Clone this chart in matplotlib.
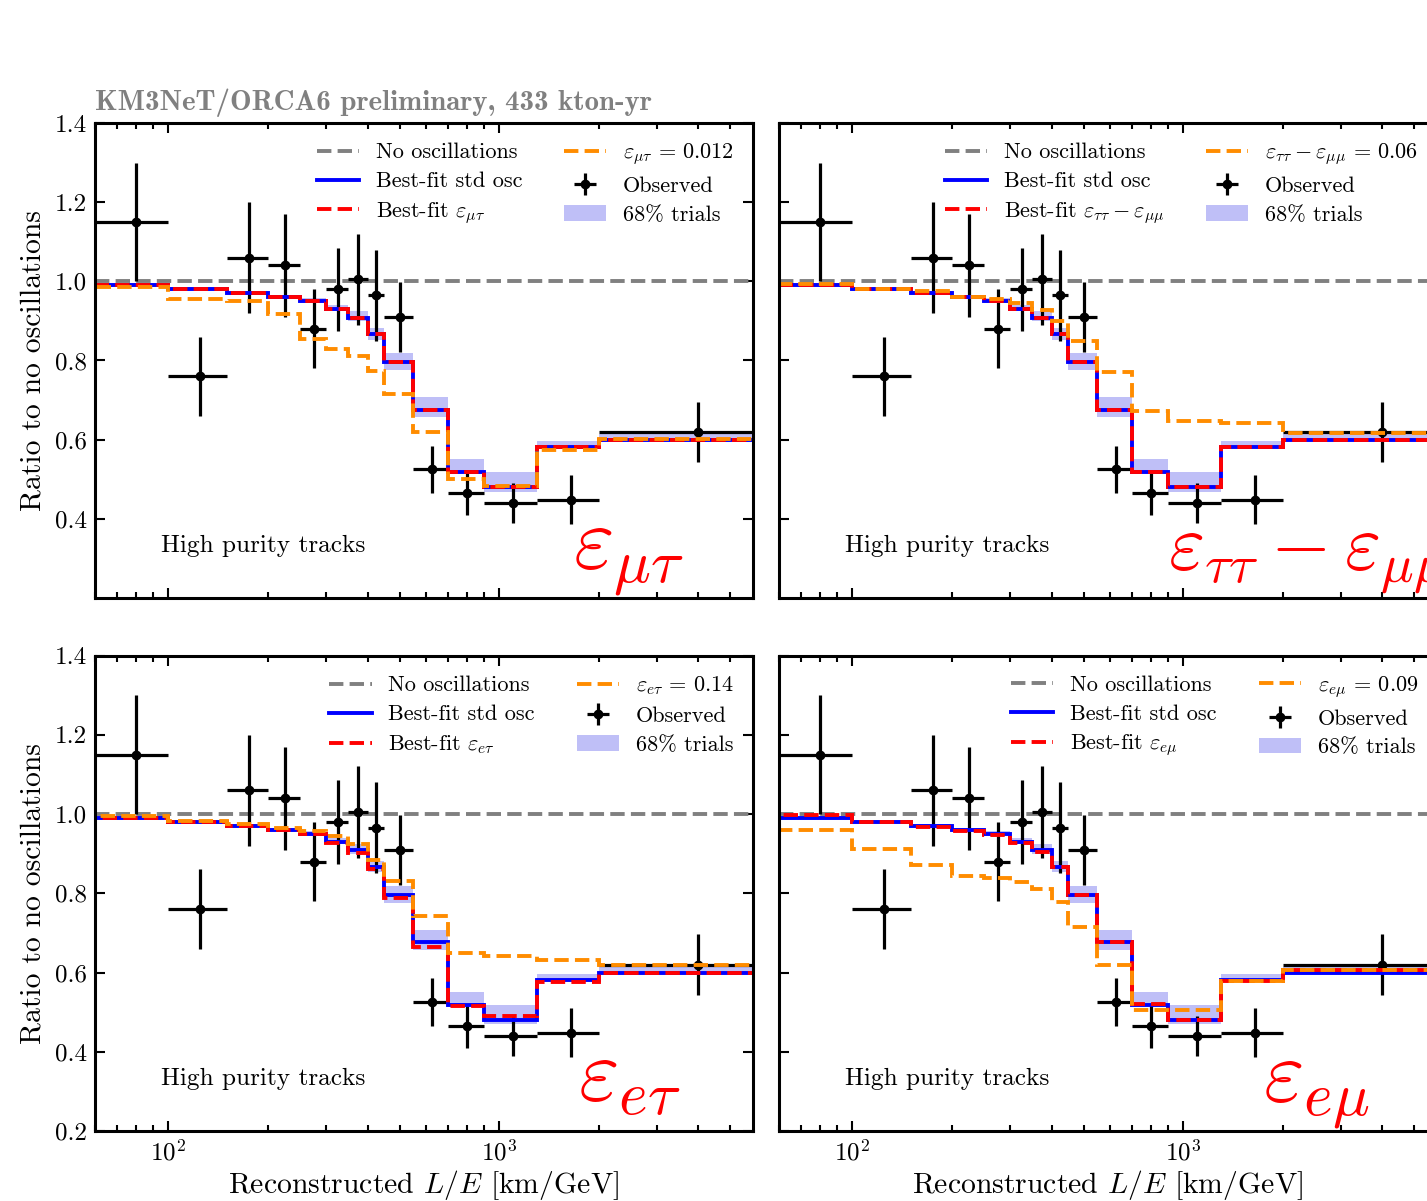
import numpy as np
import matplotlib
matplotlib.use("Agg")
import matplotlib.pyplot as plt
from matplotlib.lines import Line2D
from matplotlib.patches import Patch
from matplotlib.ticker import LogLocator, NullFormatter

plt.rcParams.update({
    "font.family": "serif",
    "font.serif": ["cmr10"],
    "mathtext.fontset": "cm",
    "axes.formatter.use_mathtext": True,
    "axes.unicode_minus": False,
})

# Binning in reconstructed L/E [km/GeV]
bin_edges = [60, 100, 150, 200, 250, 300, 350, 400, 450, 550, 700, 900, 1300, 2000, 6000]

# Observed data / no-oscillation ratio
observed = [1.15, 0.76, 1.06, 1.04, 0.88, 0.98, 1.005, 0.965, 0.91, 0.525, 0.465, 0.44, 0.448, 0.62]
observed_err = [0.15, 0.10, 0.14, 0.13, 0.10, 0.105, 0.115, 0.115, 0.088, 0.06, 0.055, 0.05, 0.062, 0.076]

# Best-fit standard oscillations and 68% band of pseudo-experiments
std_osc = [0.99, 0.98, 0.97, 0.96, 0.95, 0.93, 0.908, 0.866, 0.795, 0.676, 0.518, 0.48, 0.581, 0.60]
trials_low = [0.985, 0.975, 0.965, 0.955, 0.945, 0.924, 0.90, 0.853, 0.775, 0.657, 0.515, 0.469, 0.578, 0.597]
trials_high = [0.995, 0.985, 0.975, 0.965, 0.957, 0.939, 0.924, 0.882, 0.819, 0.708, 0.551, 0.519, 0.597, 0.614]

# Best-fit NSI per parameter
bestfit_mt = [0.99, 0.98, 0.97, 0.96, 0.95, 0.93, 0.908, 0.866, 0.795, 0.676, 0.518, 0.48, 0.581, 0.60]
bestfit_tt = [0.99, 0.98, 0.97, 0.96, 0.95, 0.93, 0.908, 0.866, 0.795, 0.676, 0.518, 0.48, 0.581, 0.60]
bestfit_et = [0.99, 0.98, 0.97, 0.96, 0.95, 0.926, 0.902, 0.862, 0.787, 0.665, 0.516, 0.49, 0.577, 0.60]
bestfit_em = [0.998, 0.981, 0.968, 0.957, 0.948, 0.928, 0.905, 0.866, 0.796, 0.676, 0.521, 0.479, 0.579, 0.606]

# Fixed NSI benchmark values
bench_mt = [0.985, 0.955, 0.95, 0.918, 0.855, 0.83, 0.812, 0.773, 0.716, 0.62, 0.50, 0.482, 0.575, 0.602]
bench_tt = [0.992, 0.98, 0.975, 0.961, 0.955, 0.944, 0.928, 0.90, 0.85, 0.771, 0.672, 0.648, 0.643, 0.618]
bench_et = [0.996, 0.982, 0.975, 0.964, 0.957, 0.944, 0.924, 0.884, 0.831, 0.743, 0.65, 0.641, 0.632, 0.619]
bench_em = [0.96, 0.912, 0.872, 0.843, 0.838, 0.829, 0.811, 0.778, 0.714, 0.619, 0.506, 0.506, 0.579, 0.606]

param_tex = [r"\varepsilon_{\mu\tau}",
             r"\varepsilon_{\tau\tau} - \varepsilon_{\mu\mu}",
             r"\varepsilon_{e\tau}",
             r"\varepsilon_{e\mu}"]
bench_values = ["0.012", "0.06", "0.14", "0.09"]
bestfits = [bestfit_mt, bestfit_tt, bestfit_et, bestfit_em]
benches = [bench_mt, bench_tt, bench_et, bench_em]

W, H = 1427, 1201
fig = plt.figure(figsize=(W / 100, H / 100), dpi=100)

def px_axes(x0, x1, y0, y1):
    return fig.add_axes([x0 / W, 1 - y1 / H, (x1 - x0) / W, (y1 - y0) / H])

axes = [px_axes(95, 753, 123, 598), px_axes(779, 1437, 123, 598),
        px_axes(95, 753, 655.5, 1131), px_axes(779, 1437, 655.5, 1131)]

edges = np.array(bin_edges, dtype=float)
centers = 0.5 * (edges[:-1] + edges[1:])
half_w = 0.5 * (edges[1:] - edges[:-1])

BAND = "#bfbff7"
ORANGE = "#ff8c00"
LW = 2.8
FS = 16

# position and size of the large parameter label in each panel
label_pos = [(0.726, 0.062), (0.591, 0.062), (0.734, 0.062), (0.736, 0.062)]
label_size = [63, 56, 63, 63]

for i, ax in enumerate(axes):
    top = i < 2
    left = i % 2 == 0
    ax.set_xscale("log")
    ax.set_xlim(60, 5850)
    ax.set_ylim(0.2, 1.4)

    ax.stairs(trials_high, edges, baseline=trials_low, fill=True,
              color=BAND, lw=0, zorder=1)
    ax.axhline(1.0, color="gray", ls="--", lw=LW, zorder=2)
    ax.errorbar(centers, observed, yerr=observed_err, xerr=half_w,
                fmt="o", color="black", ms=6, lw=2.3, capsize=0, zorder=3)
    ax.stairs(std_osc, edges, baseline=0, color="blue", lw=LW, zorder=4)
    ax.stairs(bestfits[i], edges, baseline=0, color="red", lw=LW,
              ls="--", zorder=5)
    ax.stairs(benches[i], edges, baseline=0, color=ORANGE, lw=LW,
              ls="--", zorder=6)

    handles = [
        Line2D([], [], color="gray", ls="--", lw=LW),
        Line2D([], [], color="blue", lw=LW),
        Line2D([], [], color="red", ls="--", lw=LW),
        Line2D([], [], color=ORANGE, ls="--", lw=LW),
        ax.errorbar([], [], yerr=[], xerr=[], fmt="o", color="black",
                    ms=6, lw=2.3, capsize=0),
        Patch(facecolor=BAND, edgecolor="none"),
    ]
    labels = ["No oscillations", "Best-fit std osc",
              "Best-fit $" + param_tex[i] + "$",
              "$" + param_tex[i] + r"\,=\," + bench_values[i] + "$",
              "Observed", "68% trials"]
    ax.legend(handles, labels, ncol=2, loc="upper right", frameon=False,
              fontsize=FS, handlelength=1.9, handletextpad=0.75,
              columnspacing=1.9, labelspacing=0.42,
              borderaxespad=0.45)

    ax.text(0.10, 0.109, "High purity tracks", transform=ax.transAxes,
            fontsize=18.2, va="center", ha="left")
    lx, ly = label_pos[i]
    ax.text(lx, ly, "$" + param_tex[i] + "$", transform=ax.transAxes,
            color="red", fontsize=label_size[i], ha="left", va="baseline")

    ax.xaxis.set_major_locator(LogLocator(base=10, numticks=10))
    ax.xaxis.set_minor_locator(LogLocator(base=10, subs=np.arange(2, 10), numticks=20))
    ax.xaxis.set_minor_formatter(NullFormatter())
    if top:
        ax.set_yticks([0.4, 0.6, 0.8, 1.0, 1.2, 1.4])
    else:
        ax.set_yticks([0.2, 0.4, 0.6, 0.8, 1.0, 1.2, 1.4])
    ax.tick_params(which="both", direction="in", top=True, right=True,
                   labelsize=18, width=1.5)
    ax.tick_params(which="major", length=7, pad=6)
    ax.tick_params(which="minor", length=4.5)
    ax.tick_params(axis="x", labelbottom=not top)
    ax.tick_params(axis="y", labelleft=left)
    for s in ax.spines.values():
        s.set_linewidth(2.2)
        s.set_zorder(10)
    if left:
        ax.set_ylabel("Ratio to no oscillations", fontsize=21.4, labelpad=6)
    if not top:
        ax.set_xlabel("Reconstructed $L/E$ [km/GeV]", fontsize=21.4, labelpad=2)
    ax.yaxis.set_major_formatter(plt.FuncFormatter(lambda v, p: f"{v:.1f}"))

fig.text(95 / W, 1 - 103 / H, "KM3NeT/ORCA6 preliminary, 433 kton-yr",
         family="cmb10", color="gray", fontsize=20.8, ha="left", va="center")

fig.savefig("out.png", dpi=100)
